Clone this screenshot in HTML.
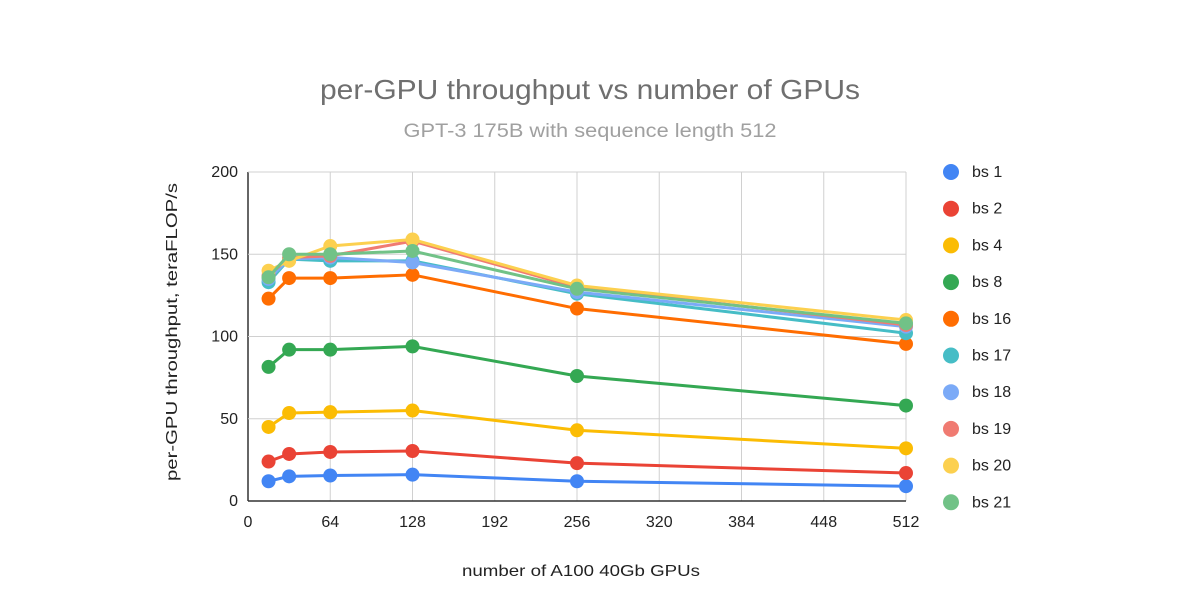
<!DOCTYPE html>
<html><head><meta charset="utf-8"><style>
body{margin:0;background:#fff;font-family:"Liberation Sans",sans-serif;}
</style></head><body>
<svg id="c" width="1200" height="610" xmlns="http://www.w3.org/2000/svg" font-family="Liberation Sans, sans-serif">
<text x="590" y="99" text-anchor="middle" font-size="28" fill="#6f6f6f" textLength="540" lengthAdjust="spacingAndGlyphs">per-GPU throughput vs number of GPUs</text>
<text x="590" y="137" text-anchor="middle" font-size="19" fill="#a0a0a0" textLength="373" lengthAdjust="spacingAndGlyphs">GPT-3 175B with sequence length 512</text>
<text transform="translate(177,332) rotate(-90)" text-anchor="middle" font-size="16" fill="#222" textLength="298" lengthAdjust="spacingAndGlyphs">per-GPU throughput, teraFLOP/s</text>
<text x="581" y="576" text-anchor="middle" font-size="16" fill="#222" textLength="238" lengthAdjust="spacingAndGlyphs">number of A100 40Gb GPUs</text>
<g id="grid"></g><g id="series"></g><g id="legend"></g>
</svg>
<script>
const xVals=[16,32,64,128,256,512];
const xTicks=[0,64,128,192,256,320,384,448,512];
const yTicks=[0,50,100,150,200];
const names=["bs 1","bs 2","bs 4","bs 8","bs 16","bs 17","bs 18","bs 19","bs 20","bs 21"];
const colors=["#4285f4","#ea4335","#fbbc04","#34a853","#ff6d01","#46bdc6","#7baaf7","#f07b72","#fcd04f","#71c287"];
const bs1=[12,15,15.5,16,12,9];
const bs2=[24,28.6,29.8,30.4,23,17];
const bs4=[45,53.5,54,55,43,32];
const bs8=[81.5,92,92,94,76,58];
const bs16=[123,135.5,135.5,137.5,117,95.5];
const bs17=[133,147,146,146,126,102];
const bs18=[135,147,148,145,127,106];
const bs19=[137,148,149,158,130,107];
const bs20=[140,146,155,159,131,110];
const bs21=[136,150,150,152,129,108];
const series=[bs1,bs2,bs4,bs8,bs16,bs17,bs18,bs19,bs20,bs21];
const NS="http://www.w3.org/2000/svg";
const X=v=>248+v*658/512, Y=v=>501-v*329/200;
function mk(t,a,p){const e=document.createElementNS(NS,t);for(const k in a)e.setAttribute(k,a[k]);p.appendChild(e);return e;}
const g=document.getElementById('grid');
xTicks.forEach(t=>{const l=mk('line',{x1:X(t),x2:X(t),y1:Y(200),y2:Y(0),stroke:t===0?'#333':'#d0d0d0','stroke-width':t===0?1.5:1},g);

const tx=mk('text',{x:X(t),y:527,'text-anchor':'middle','font-size':16,fill:'#222'},g);tx.textContent=t;
});
yTicks.forEach(t=>{const l=mk('line',{x1:X(0),x2:X(512),y1:Y(t),y2:Y(t),stroke:t===0?'#333':'#d0d0d0','stroke-width':t===0?1.5:1},g);

const tx=mk('text',{x:238,y:Y(t)+5,'text-anchor':'end','font-size':16,fill:'#222'},g);tx.textContent=t;
});
const s=document.getElementById('series'),lg=document.getElementById('legend');
series.forEach((d,i)=>{const gg=mk('g',{},s);

const pl=mk('polyline',{points:d.map((v,j)=>X(xVals[j])+','+Y(v)).join(' '),fill:'none',stroke:colors[i],'stroke-width':3,'stroke-linejoin':'round'},gg);

d.forEach((v,j)=>{const c=mk('circle',{cx:X(xVals[j]),cy:Y(v),r:7,fill:colors[i]},gg);
});
const ly=172+i*36.7;const le=mk('g',{},lg);

mk('circle',{cx:951,cy:ly,r:8,fill:colors[i]},le);
const t=mk('text',{x:972,y:ly+5,'font-size':16,fill:'#222'},le);t.textContent=names[i];});
</script>
</body></html>
